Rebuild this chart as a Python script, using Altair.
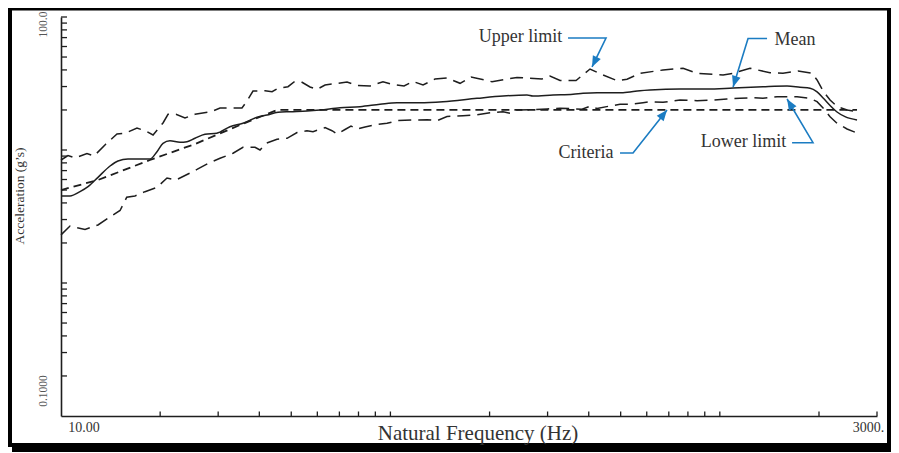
import altair as alt
import pandas as pd

# ---------------- data ----------------
upper_freq = [10, 10.5, 11.03, 11.99, 12.6, 13.69, 14.79, 15.64, 17.01, 18.25,
              19.03, 20.4, 21.13, 22.34, 23.79, 25.51, 28.54, 30.39, 35.43, 36.7,
              38.27, 41.63, 43.72, 45.59, 48.88, 50.98, 53.54, 57.01, 59.88, 63.32,
              73.84, 79.17, 86.75, 94.95, 101.8, 110.0, 117.1, 125.6, 136.6, 148.5,
              162.7, 175.7, 203.4, 225.9, 242.3, 288.5, 305.1, 327.3, 366.0, 403.6,
              442.0, 487.4, 522.7, 572.4, 672.4, 773.3, 852.7, 1023, 1097, 1235,
              1420, 1555, 1728, 1905, 1973, 2058, 2161, 2269, 2433, 2609]
upper_acc = [8.41, 9.09, 8.71, 9.41, 9.02, 11.09, 13.19, 13.36, 14.64, 13.73,
             12.97, 15.96, 18.55, 18.55, 17.40, 18.55, 19.41, 20.70, 20.70, 23.36,
             27.77, 27.92, 27.44, 29.10, 29.92, 32.45, 32.62, 29.77, 28.60, 30.81,
             32.45, 30.55, 30.28, 32.62, 31.08, 30.28, 32.73, 30.81, 34.18, 34.78,
             31.73, 35.39, 32.62, 34.18, 35.08, 34.18, 36.01, 33.32, 33.32, 40.64,
             36.64, 33.20, 34.01, 37.73, 39.95, 41.15, 37.73, 36.64, 37.73, 41.15,
             38.12, 37.73, 39.26, 37.73, 33.60, 27.77, 23.76, 21.24, 20.0, 19.41]

mean_freq = [10, 10.65, 11.42, 12.08, 12.95, 14.09, 14.89, 15.97, 18.63, 19.56,
             20.4, 21.42, 22.98, 24.13, 25.51, 27.36, 29.70, 32.58, 35.68, 39.36,
             42.21, 45.59, 49.57, 55.82, 61.14, 70.31, 80.86, 92.99, 104.7, 123.0,
             144.4, 183.2, 219.7, 259.8, 270.9, 311.6, 358.4, 384.3, 423.9, 508.3,
             572.4, 613.9, 757.2, 914.5, 1097, 1352, 1600, 1752, 1879, 1969,
             2062, 2161, 2269, 2399, 2609]
mean_acc = [4.51, 4.51, 4.86, 5.30, 6.23, 7.58, 8.27, 8.56, 8.56, 9.71,
            11.23, 11.75, 11.43, 11.54, 12.25, 13.12, 13.36, 14.97, 15.88, 17.62,
            18.33, 19.21, 19.41, 19.65, 20.0, 20.80, 21.16, 22.06, 22.68, 22.68,
            23.08, 24.47, 25.47, 25.91, 25.47, 25.91, 26.23, 26.69, 26.97, 26.97,
            27.92, 28.26, 28.75, 28.75, 29.26, 29.92, 30.28, 29.61, 29.10, 27.44,
            24.47, 21.61, 19.31, 17.80, 16.81]

lower_freq = [10, 10.65, 11.03, 11.83, 12.95, 13.89, 15.11, 15.83, 16.77, 17.99,
              19.56, 20.98, 22.34, 24.13, 25.87, 27.95, 30.39, 33.28, 35.68, 38.81,
              40.19, 41.92, 45.27, 48.55, 52.07, 55.82, 58.21, 63.32, 66.48, 68.85,
              72.81, 75.92, 79.17, 83.74, 91.06, 97.65, 105.5, 117.1, 129.2, 138.5,
              148.5, 166.1, 183.2, 200.6, 219.7, 230.7, 242.3, 265.3, 298.8, 327.3,
              358.4, 381.6, 403.6, 423.9, 464.1, 497.7, 533.8, 584.6, 613.9, 672.4,
              757.2, 852.7, 953.5, 1051, 1152, 1261, 1352, 1491, 1716, 1879,
              1973, 2058, 2161, 2269, 2433, 2609]
lower_acc = [2.30, 2.68, 2.62, 2.53, 2.73, 3.07, 3.51, 4.41, 4.51, 4.86,
             5.24, 6.16, 5.95, 6.54, 7.14, 7.92, 8.66, 9.45, 10.48, 10.48,
             10.0, 11.23, 12.04, 12.25, 13.54, 13.97, 13.73, 14.72, 13.97, 13.19,
             14.26, 15.15, 14.39, 14.89, 15.55, 15.88, 16.67, 16.81, 16.90, 16.61,
             17.86, 18.11, 18.42, 19.04, 19.38, 18.88, 20.0, 20.06, 20.34, 20.59,
             20.45, 20.23, 21.32, 20.51, 21.42, 22.06, 22.06, 22.68, 23.08, 22.84,
             23.76, 23.48, 23.76, 24.18, 24.47, 24.73, 24.47, 25.17, 25.17, 24.47,
             23.08, 20.70, 17.80, 15.88, 14.39, 13.42]

criteria_freq = [10, 12.95, 18.63, 25.51, 34.95, 45.27, 2609]
criteria_acc = [5.0, 5.95, 8.41, 11.09, 15.42, 20.0, 20.0]

# tick marks and tick labels
x_tick_values = [20, 30, 40, 50, 60, 70, 80, 90,
                 100, 200, 300, 400, 500, 600, 700, 800, 900,
                 1000, 2000, 3000]
y_tick_values = [0.2, 0.3, 0.4, 0.5, 0.6, 0.7, 0.8, 0.9,
                 1, 2, 3, 4, 5, 6, 7, 8, 9,
                 10, 20, 30, 40, 50, 60, 70, 80, 90, 100]
x_label_values = [10, 3000]
x_label_texts = ["10.00", "3000."]
y_label_values = [100, 0.1]
y_label_texts = ["100.0", "0.1000"]

# annotations (in data units)
ann_labels = ["Upper limit", "Mean", "Lower limit", "Criteria"]
ann_freq = [248.3, 1692, 1180, 392.5]
ann_acc = [70.4, 67.7, 11.54, 9.49]
conn_freq = [[346.1, 451.3, 409.3], [1391, 1218, 1097],
             [1657, 1918, 1600], [497.7, 545.1, 691.3]]
conn_acc = [[69.5, 69.5, 42.1], [68.9, 68.9, 29.8],
            [11.35, 11.35, 24.18], [9.49, 9.49, 20.0]]
arrow_angle = [205.8, 197.2, 329.2, 38.3]

# ---------------- styling ----------------
INK = "#1e1e1e"
BLUE = "#1b7cc2"
TEXT = "#333333"
SERIF = "Liberation Serif"

XS = alt.Scale(type="log", domain=[10, 3000], nice=False)
YS = alt.Scale(type="log", domain=[0.1, 100], nice=False)
XAX = alt.Axis(title=None, labels=False, ticks=False, grid=False, domain=True,
               domainColor=INK, domainWidth=1.6)
YAX = alt.Axis(title=None, labels=False, ticks=False, grid=False, domain=True,
               domainColor=INK, domainWidth=1.6)


def xq(f):
    return alt.X(f"{f}:Q", scale=XS, axis=XAX)


def yq(f):
    return alt.Y(f"{f}:Q", scale=YS, axis=YAX)


dummy = pd.DataFrame({"k": [0]})


def bar(x1, x2, y1, y2):
    return alt.Chart(dummy).mark_rect(color="black").encode(
        x=alt.value(x1), x2=alt.value(x2), y=alt.value(y1), y2=alt.value(y2))


frame = [
    bar(-53, 830, -9, -6.5),
    bar(-53, -49, -9, 430),
    bar(826, 830, -9, 430),
    bar(-53, 830, 426, 430),
    bar(830, 836, -7, 435),
    bar(-49, 836, 430, 435),
]

xticks = alt.Chart(pd.DataFrame({"v": x_tick_values})).mark_rule(
    color=INK, strokeWidth=1.3).encode(x=xq("v"), y=alt.value(399), y2=alt.value(394.5))
yticks = alt.Chart(pd.DataFrame({"v": y_tick_values})).mark_rule(
    color=INK, strokeWidth=1.3).encode(y=yq("v"), x=alt.value(0), x2=alt.value(6))


def series(f, a):
    return pd.DataFrame({"freq": f, "acc": a})


upper = alt.Chart(series(upper_freq, upper_acc)).mark_line(
    color=INK, strokeWidth=1.5, strokeDash=[13, 7]).encode(x=xq("freq"), y=yq("acc"))
lower = alt.Chart(series(lower_freq, lower_acc)).mark_line(
    color=INK, strokeWidth=1.5, strokeDash=[13, 7]).encode(x=xq("freq"), y=yq("acc"))
mean = alt.Chart(series(mean_freq, mean_acc)).mark_line(
    color=INK, strokeWidth=1.5, interpolate="monotone").encode(x=xq("freq"), y=yq("acc"))
criteria = alt.Chart(series(criteria_freq, criteria_acc)).mark_line(
    color=INK, strokeWidth=1.8, strokeDash=[8, 5]).encode(x=xq("freq"), y=yq("acc"))

# tick labels
xlab0 = alt.Chart(pd.DataFrame({"v": [x_label_values[0]], "t": [x_label_texts[0]]})).mark_text(
    font=SERIF, fontSize=14, color=TEXT, align="center", baseline="middle", dx=23, dy=12
).encode(x=xq("v"), y=alt.value(399), text="t:N")
xlab1 = alt.Chart(pd.DataFrame({"v": [x_label_values[1]], "t": [x_label_texts[1]]})).mark_text(
    font=SERIF, fontSize=14, color=TEXT, align="center", baseline="middle", dx=-8.5, dy=12
).encode(x=xq("v"), y=alt.value(399), text="t:N")
ylab0 = alt.Chart(pd.DataFrame({"v": [y_label_values[0]], "t": [y_label_texts[0]]})).mark_text(
    font=SERIF, fontSize=11.5, color="#555555", align="center", baseline="middle", angle=270, dx=-7.5
).encode(y=yq("v"), x=alt.value(-17), text="t:N")
ylab1 = alt.Chart(pd.DataFrame({"v": [y_label_values[1]], "t": [y_label_texts[1]]})).mark_text(
    font=SERIF, fontSize=11.5, color="#555555", align="center", baseline="middle", angle=270, dx=25
).encode(y=yq("v"), x=alt.value(-17), text="t:N")

xtitle = alt.Chart(pd.DataFrame({"t": ["Natural Frequency (Hz)"]})).mark_text(
    font=SERIF, fontSize=21, color=TEXT, align="center", baseline="middle"
).encode(x=alt.value(417), y=alt.value(416.5), text="t:N")
ytitle = alt.Chart(pd.DataFrame({"t": ["Acceleration (g\u2019s)"]})).mark_text(
    font=SERIF, fontSize=13.5, color=TEXT, align="center", baseline="middle", angle=270
).encode(x=alt.value(-41), y=alt.value(179), text="t:N")

# annotations
ann_df = pd.DataFrame({"label": ann_labels, "freq": ann_freq, "acc": ann_acc})
ann_text = alt.Chart(ann_df).mark_text(
    font=SERIF, fontSize=18, color=TEXT, align="center", baseline="middle"
).encode(x=xq("freq"), y=yq("acc"), text="label:N")

rows = []
for name, fs, accs in zip(ann_labels, conn_freq, conn_acc):
    for i, (f, a) in enumerate(zip(fs, accs)):
        rows.append({"name": name, "i": i, "freq": f, "acc": a})
conn_df = pd.DataFrame(rows)
connectors = alt.Chart(conn_df).mark_line(color=BLUE, strokeWidth=1.6).encode(
    x=xq("freq"), y=yq("acc"), detail="name:N", order="i:Q")

tips = pd.DataFrame({
    "name": ann_labels,
    "freq": [fs[-1] for fs in conn_freq],
    "acc": [a[-1] for a in conn_acc],
    "ang": arrow_angle,
})
arrows = alt.Chart(tips).mark_point(
    shape="M0,0L-0.4,1L0.4,1Z", filled=True, color=BLUE, size=484, opacity=1, strokeWidth=0
).encode(x=xq("freq"), y=yq("acc"), angle=alt.Angle("ang:Q", scale=None))

chart = alt.layer(
    *frame, xticks, yticks, criteria, lower, upper, mean,
    xlab0, xlab1, ylab0, ylab1, xtitle, ytitle,
    connectors, arrows, ann_text,
).properties(
    width=816, height=399,
    autosize=alt.AutoSizeParams(type="none"),
    padding={"left": 53, "top": 9, "right": 14, "bottom": 37},
    background="white",
).configure_view(stroke=None)

chart.save("out.html", embed_options={"renderer": "svg", "actions": False})
